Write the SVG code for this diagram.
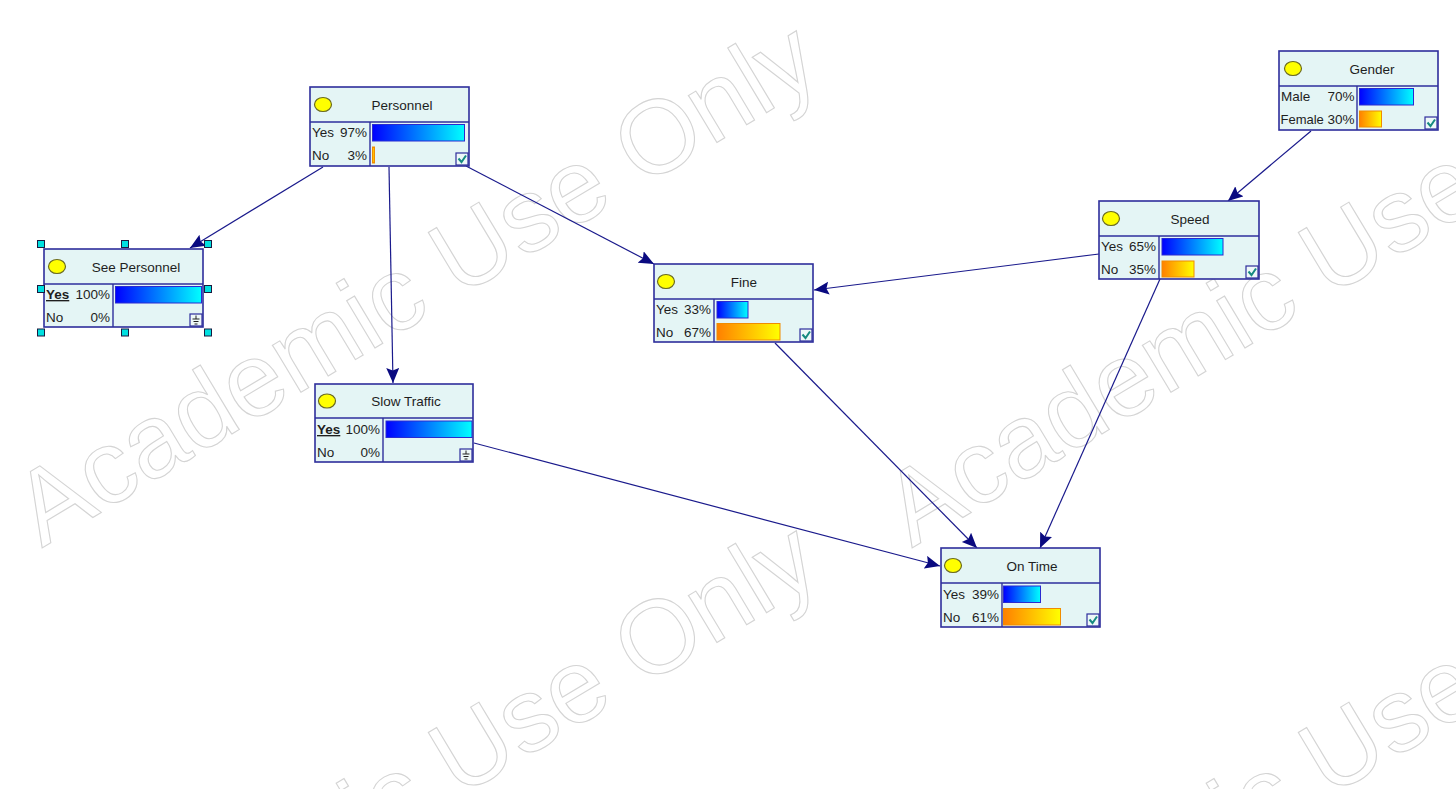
<svg xmlns="http://www.w3.org/2000/svg" width="1456" height="789" viewBox="0 0 1456 789">
  <style>
    .wm { font-family: "Liberation Sans", Arial, sans-serif; font-size: 104px; fill: none; stroke: #d4d4d4; stroke-width: 1.1; }
    .box { fill: #e4f5f5; stroke: #2e2e9c; stroke-width: 1.6; }
    .div { stroke: #2e2e9c; stroke-width: 1.4; }
    .dot { fill: #ffff00; stroke: #6a6a20; stroke-width: 1.2; }
    .title { font-family: "Liberation Sans", Arial, sans-serif; font-size: 13.5px; fill: #1e1e1e; text-anchor: middle; }
    .lbl { font-family: "Liberation Sans", Arial, sans-serif; font-size: 13.5px; fill: #1e1e1e; }
    .val { font-family: "Liberation Sans", Arial, sans-serif; font-size: 13.5px; fill: #1e1e1e; text-anchor: end; }
    .ev { font-weight: bold; text-decoration: underline; }
    .blue { fill: url(#gBlue); stroke: #2a2ad0; stroke-width: 1; }
    .orange { fill: url(#gOrange); stroke: #f08c00; stroke-width: 1; }
    .chk { fill: #eef8f8; stroke: #2e2e9c; stroke-width: 1.2; }
    .tick { fill: none; stroke: #168a80; stroke-width: 2; }
    .gnd { fill: none; stroke: #202020; stroke-width: 1; }
    .edge { fill: none; stroke: #1a1a8c; stroke-width: 1.2; marker-end: url(#arrow); }
    .handle { fill: #00e0e0; stroke: #1a1a40; stroke-width: 1; }
  </style>
  <defs>
    <linearGradient id="gBlue" x1="0" y1="0" x2="1" y2="0">
      <stop offset="0" stop-color="#0000ff"/>
      <stop offset="1" stop-color="#00ffff"/>
    </linearGradient>
    <linearGradient id="gOrange" x1="0" y1="0" x2="1" y2="0">
      <stop offset="0" stop-color="#ff8000"/>
      <stop offset="1" stop-color="#ffff00"/>
    </linearGradient>
    <marker id="arrow" markerUnits="userSpaceOnUse" markerWidth="17" markerHeight="14" refX="15" refY="6.5" orient="auto">
      <path d="M0,0 L15,6.5 L0,13 L2.5,6.5 Z" fill="#0a0a80"/>
    </marker>
    <!-- checked box in the bottom-right corner of a node -->
    <g id="check">
      <rect class="chk" x="146" y="66" width="12" height="12"/>
      <polyline class="tick" points="148.5,71.5 151.5,75 156,68.5"/>
    </g>
    <!-- evidence (ground) box in the bottom-right corner of a node -->
    <g id="ground">
      <rect class="chk" x="146" y="66" width="12" height="12"/>
      <line class="gnd" x1="152" y1="67.5" x2="152" y2="71"/>
      <line class="gnd" x1="148.5" y1="71" x2="155.5" y2="71"/>
      <line class="gnd" x1="149.5" y1="73.5" x2="154.5" y2="73.5"/>
      <line class="gnd" x1="150.5" y1="76" x2="153.5" y2="76"/>
    </g>
  </defs>

  <rect width="1456" height="789" fill="#ffffff"/>

  <!-- watermark text -->
  <g id="watermark">
    <text class="wm" transform="translate(42,548) rotate(-31)">Academic Use Only</text>
    <text class="wm" transform="translate(912,548) rotate(-31)">Academic Use Only</text>
    <text class="wm" transform="translate(42,1048) rotate(-31)">Academic Use Only</text>
    <text class="wm" transform="translate(912,1048) rotate(-31)">Academic Use Only</text>
  </g>

  <!-- connectors -->
  <g id="edges">
    <line class="edge" x1="323" y1="167" x2="190" y2="248"/>
    <line class="edge" x1="389" y1="167" x2="393" y2="383"/>
    <line class="edge" x1="466" y1="166" x2="654" y2="264"/>
    <line class="edge" x1="1311" y1="131" x2="1228" y2="201"/>
    <line class="edge" x1="1099" y1="254" x2="814" y2="290"/>
    <line class="edge" x1="775" y1="343" x2="977" y2="548"/>
    <line class="edge" x1="1160" y1="279" x2="1040" y2="548"/>
    <line class="edge" x1="474" y1="443" x2="940" y2="566"/>
  </g>

  <!-- Personnel -->
  <g id="node-personnel" transform="translate(310,87)">
    <rect class="box" x="0" y="0" width="159" height="79"/>
    <line class="div" x1="0" y1="35" x2="159" y2="35"/>
    <line class="div" x1="60" y1="35" x2="60" y2="79"/>
    <ellipse class="dot" cx="13" cy="17.5" rx="8.5" ry="7"/>
    <text class="title" x="92" y="22.5">Personnel</text>
    <text class="lbl" x="2" y="50">Yes</text><text class="val" x="57" y="50">97%</text>
    <text class="lbl" x="2" y="73">No</text><text class="val" x="57" y="73">3%</text>
    <rect class="blue" x="62.5" y="37.5" width="92" height="16.5"/>
    <rect class="orange" x="62.5" y="60" width="2" height="16"/>
    <use href="#check"/>
  </g>

  <!-- See Personnel (selected) -->
  <g id="node-see-personnel" transform="translate(44,249)">
    <rect class="box" x="0" y="0" width="159" height="78"/>
    <line class="div" x1="0" y1="35" x2="159" y2="35"/>
    <line class="div" x1="69" y1="35" x2="69" y2="78"/>
    <ellipse class="dot" cx="13" cy="17.5" rx="8.5" ry="7"/>
    <text class="title" x="92" y="22.5">See Personnel</text>
    <text class="lbl ev" x="2" y="50">Yes</text><text class="val" x="66" y="50">100%</text>
    <text class="lbl" x="2" y="73">No</text><text class="val" x="66" y="73">0%</text>
    <rect class="blue" x="71.5" y="37.5" width="86" height="16.5"/>
    <use href="#ground" transform="translate(0,-1)"/>
    <rect class="handle" x="-6.5" y="-8.5" width="7" height="7"/>
    <rect class="handle" x="77.5" y="-8.5" width="7" height="7"/>
    <rect class="handle" x="160.5" y="-8.5" width="7" height="7"/>
    <rect class="handle" x="-6.5" y="36.5" width="7" height="7"/>
    <rect class="handle" x="160.5" y="36.5" width="7" height="7"/>
    <rect class="handle" x="-6.5" y="80" width="7" height="7"/>
    <rect class="handle" x="77.5" y="80" width="7" height="7"/>
    <rect class="handle" x="160.5" y="80" width="7" height="7"/>
  </g>

  <!-- Slow Traffic -->
  <g id="node-slow-traffic" transform="translate(315,384)">
    <rect class="box" x="0" y="0" width="158" height="78"/>
    <line class="div" x1="0" y1="34" x2="158" y2="34"/>
    <line class="div" x1="68" y1="34" x2="68" y2="78"/>
    <ellipse class="dot" cx="12" cy="17" rx="8.5" ry="7"/>
    <text class="title" x="91" y="22">Slow Traffic</text>
    <text class="lbl ev" x="2" y="50">Yes</text><text class="val" x="65" y="50">100%</text>
    <text class="lbl" x="2" y="73">No</text><text class="val" x="65" y="73">0%</text>
    <rect class="blue" x="71" y="37" width="86" height="16.5"/>
    <use href="#ground" transform="translate(-1,-1)"/>
  </g>

  <!-- Fine -->
  <g id="node-fine" transform="translate(654,264)">
    <rect class="box" x="0" y="0" width="159" height="78"/>
    <line class="div" x1="0" y1="35" x2="159" y2="35"/>
    <line class="div" x1="60" y1="35" x2="60" y2="78"/>
    <ellipse class="dot" cx="12" cy="17.5" rx="8.5" ry="7"/>
    <text class="title" x="90" y="22.5">Fine</text>
    <text class="lbl" x="2" y="50">Yes</text><text class="val" x="57" y="50">33%</text>
    <text class="lbl" x="2" y="73">No</text><text class="val" x="57" y="73">67%</text>
    <rect class="blue" x="63" y="37.5" width="31" height="16.5"/>
    <rect class="orange" x="63" y="59.5" width="63" height="16.5"/>
    <use href="#check" transform="translate(0,-1)"/>
  </g>

  <!-- Gender -->
  <g id="node-gender" transform="translate(1279,51)">
    <rect class="box" x="0" y="0" width="159" height="79"/>
    <line class="div" x1="0" y1="35" x2="159" y2="35"/>
    <line class="div" x1="78" y1="35" x2="78" y2="79"/>
    <ellipse class="dot" cx="14" cy="17.5" rx="8.5" ry="7"/>
    <text class="title" x="93" y="22.5">Gender</text>
    <text class="lbl" x="2" y="50">Male</text><text class="val" x="75.5" y="50">70%</text>
    <text class="lbl" x="1.5" y="73" style="font-size:13px">Female</text><text class="val" x="75.5" y="73">30%</text>
    <rect class="blue" x="80.5" y="37.5" width="54" height="16.5"/>
    <rect class="orange" x="80.5" y="60" width="22" height="16"/>
    <use href="#check"/>
  </g>

  <!-- Speed -->
  <g id="node-speed" transform="translate(1099,201)">
    <rect class="box" x="0" y="0" width="160" height="78"/>
    <line class="div" x1="0" y1="35" x2="160" y2="35"/>
    <line class="div" x1="60" y1="35" x2="60" y2="78"/>
    <ellipse class="dot" cx="12" cy="17.5" rx="8.5" ry="7"/>
    <text class="title" x="91" y="22.5">Speed</text>
    <text class="lbl" x="2" y="50">Yes</text><text class="val" x="57" y="50">65%</text>
    <text class="lbl" x="2" y="73">No</text><text class="val" x="57" y="73">35%</text>
    <rect class="blue" x="63" y="37.5" width="61" height="16.5"/>
    <rect class="orange" x="63" y="60" width="32" height="16"/>
    <use href="#check" transform="translate(1,-1)"/>
  </g>

  <!-- On Time -->
  <g id="node-on-time" transform="translate(941,548)">
    <rect class="box" x="0" y="0" width="159" height="79"/>
    <line class="div" x1="0" y1="35" x2="159" y2="35"/>
    <line class="div" x1="61" y1="35" x2="61" y2="79"/>
    <ellipse class="dot" cx="12" cy="17.5" rx="8.5" ry="7"/>
    <text class="title" x="91" y="22.5">On Time</text>
    <text class="lbl" x="2" y="51">Yes</text><text class="val" x="58" y="51">39%</text>
    <text class="lbl" x="2" y="74">No</text><text class="val" x="58" y="74">61%</text>
    <rect class="blue" x="62.5" y="38" width="37" height="16.5"/>
    <rect class="orange" x="62.5" y="60.5" width="57" height="16.5"/>
    <use href="#check"/>
  </g>
</svg>
